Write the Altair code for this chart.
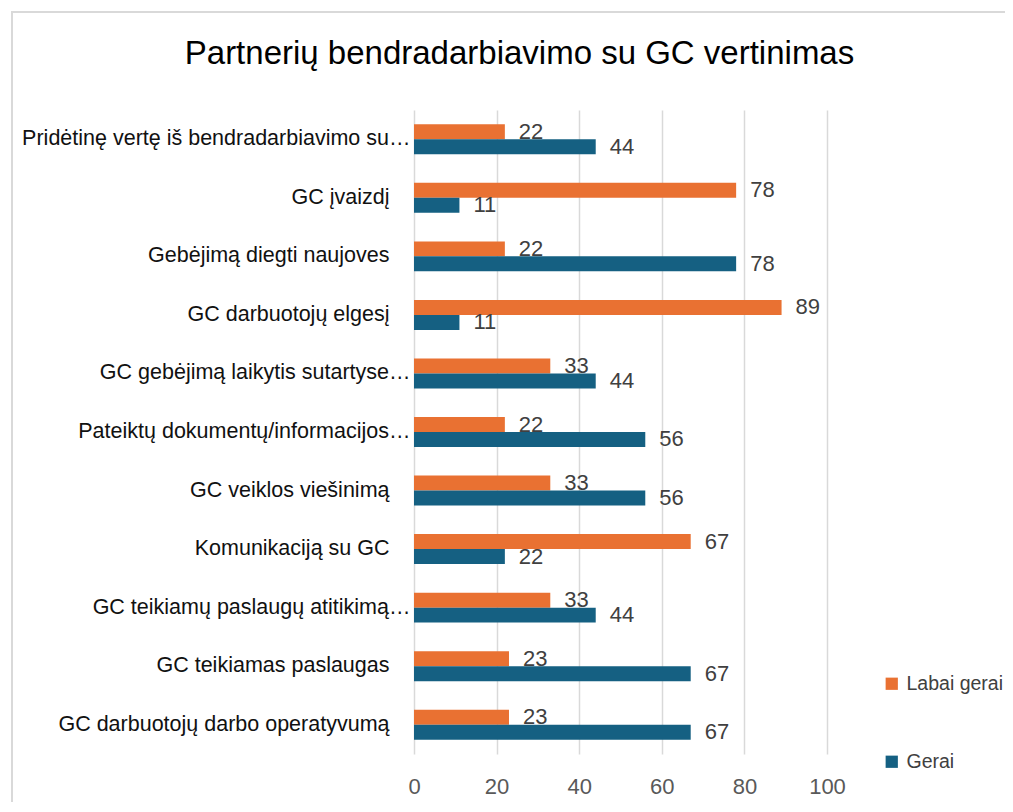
import altair as alt
import pandas as pd

categories = [
    "Pridėtinę vertę iš bendradarbiavimo su…",
    "GC įvaizdį",
    "Gebėjimą diegti naujoves",
    "GC darbuotojų elgesį",
    "GC gebėjimą laikytis sutartyse…",
    "Pateiktų dokumentų/informacijos…",
    "GC veiklos viešinimą",
    "Komunikaciją su GC",
    "GC teikiamų paslaugų atitikimą…",
    "GC teikiamas paslaugas",
    "GC darbuotojų darbo operatyvumą",
]
series = ["Labai gerai", "Gerai"]
labai_gerai = [22, 78, 22, 89, 33, 22, 33, 67, 33, 23, 23]
gerai = [44, 11, 78, 11, 44, 56, 56, 22, 44, 67, 67]
x_ticks = [0, 20, 40, 60, 80, 100]
colors = ["#E97132", "#156082"]

rows = []
for c, a, b in zip(categories, labai_gerai, gerai):
    rows.append({"cat": c, "series": series[0], "value": a})
    rows.append({"cat": c, "series": series[1], "value": b})
df = pd.DataFrame(rows)

FONT = "Liberation Sans"

y_enc = alt.Y("cat:N", sort=categories, title=None,
              scale=alt.Scale(paddingInner=0.488, paddingOuter=0.244),
              axis=alt.Axis(labelFontSize=21.5, labelColor="#111111", labelFont=FONT,
                            ticks=False, domain=False, labelLimit=420,
                            labelPadding={"condition": {"test": "indexof(datum.label, '…') >= 0",
                                                        "value": 4},
                                          "value": 25}))
yoff = alt.YOffset("series:N", sort=series)
x_enc = alt.X("value:Q", title=None,
              scale=alt.Scale(domain=[0, 100], nice=False),
              axis=alt.Axis(values=x_ticks, labelFontSize=22, labelColor="#595959",
                            labelFont=FONT, ticks=False, domain=False, labelPadding=22,
                            labelFlush=False,
                            grid=True, gridColor="#d9d9d9", gridWidth=1.5))
color_enc = alt.Color("series:N", sort=series,
                      scale=alt.Scale(domain=series, range=colors),
                      legend=alt.Legend(title=None, orient="none", legendX=468, legendY=564,
                                        symbolType="square", symbolSize=150,
                                        symbolStrokeWidth=0, labelFontSize=19.5,
                                        labelFont=FONT, labelColor="#404040",
                                        rowPadding=57, labelOffset=5))

base = alt.Chart(df)
bars = base.mark_bar().encode(y=y_enc, yOffset=yoff, x=x_enc, color=color_enc)
labels = base.mark_text(align="left", baseline="middle", dx=14, fontSize=22,
                        font=FONT, color="#404040").encode(
    y=alt.Y("cat:N", sort=categories), yOffset=yoff, x="value:Q", text="value:Q")

border = alt.Chart(alt.Data(values=[{"a": 1}])).mark_rect(
    fill=None, stroke="#d9d9d9", strokeWidth=2).encode(
    x=alt.value(-402), x2=alt.value(700), y=alt.value(-98), y2=alt.value(800))

chart = alt.layer(border, bars, labels).properties(
    width=413, height=644,
    autosize=alt.AutoSizeParams(type="none"),
    padding={"left": 406, "top": 102, "right": 178, "bottom": 48},
    title=alt.TitleParams("Partnerių bendradarbiavimo su GC vertinimas",
                          fontSize=33, font=FONT, fontWeight="normal", color="#000000",
                          anchor="middle", frame="group", dx=-101, offset=-86,
                          baseline="alphabetic"),
).configure_view(stroke=None)

chart.save("out.html", embed_options={"renderer": "svg", "actions": False})
